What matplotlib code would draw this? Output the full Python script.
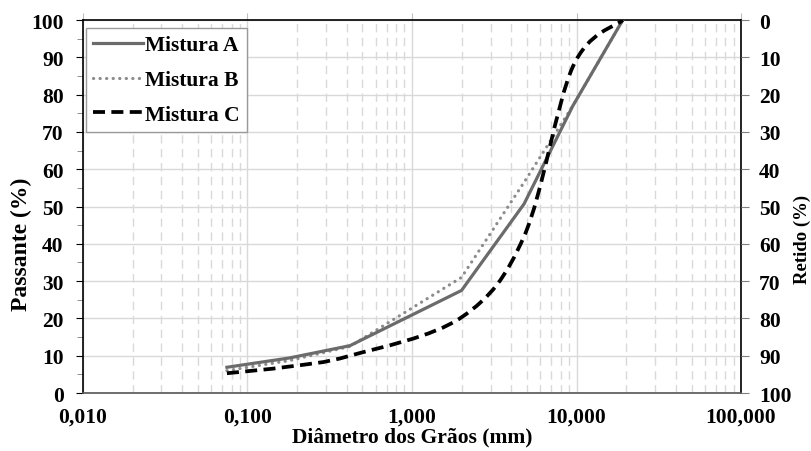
import numpy as np
import matplotlib
matplotlib.use("Agg")
import matplotlib.pyplot as plt
from matplotlib.path import Path
from matplotlib.patches import PathPatch
from matplotlib.lines import Line2D
from matplotlib.ticker import FixedLocator, MultipleLocator, LogLocator

# ---- data ----
sieves = [0.075, 0.18, 0.42, 2.0, 4.8, 9.5, 19.1]
mistura_a = [6.9, 9.4, 12.7, 27.5, 50.7, 77.0, 100.0]
mistura_b = [6.0, 8.7, 12.5, 31.0, 56.5, 77.0, 100.0]
mistura_c = [5.3, 7.1, 10.0, 20.3, 42.0, 87.5, 100.0]
series_names = ["Mistura A", "Mistura B", "Mistura C"]
xtick_vals = [0.01, 0.1, 1, 10, 100]
xtick_labels = ["0,010", "0,100", "1,000", "10,000", "100,000"]

FS = 15.5
plt.rcParams['font.family'] = ['Liberation Serif', 'DejaVu Serif']
plt.rcParams['font.weight'] = 'bold'

fig = plt.figure(figsize=(8.12, 4.52), dpi=100)
ax = fig.add_axes([0.1022, 0.1283, 0.8104, 0.8252])

ax.set_xscale('log')
ax.set_xlim(0.01, 100)
ax.set_ylim(0, 100)

# grid
ax.xaxis.set_major_locator(FixedLocator(xtick_vals))
ax.xaxis.set_minor_locator(LogLocator(base=10, subs=np.arange(2, 10), numticks=20))
ax.yaxis.set_major_locator(MultipleLocator(10))
ax.yaxis.set_minor_locator(MultipleLocator(5))
ax.grid(True, which='major', axis='both', color='#d9d9d9', lw=1.0, ls='-')
ax.grid(True, which='minor', axis='x', color='#d9d9d9', lw=1.0, ls=(0, (6, 4)))
ax.set_axisbelow(True)

# series A & B (straight)
colA = '#6b6b6b'
colB = '#8c8c8c'
ax.plot(sieves, mistura_b, color=colB, lw=2.3, ls=(0, (0.05, 2.0)),
        dash_capstyle='round', solid_capstyle='round', zorder=3)
ax.plot(sieves, mistura_a, color=colA, lw=2.3, ls='-', zorder=4)

# series C smoothed (Catmull-Rom -> Bezier in log space)
lx = np.log10(sieves)
yc = np.array(mistura_c, dtype=float)
pts = np.column_stack([lx, yc])
verts = [pts[0]]
codes = [Path.MOVETO]
n = len(pts)
for i in range(n - 1):
    p0 = pts[i - 1] if i > 0 else pts[i]
    p1 = pts[i]
    p2 = pts[i + 1]
    p3 = pts[i + 2] if i + 2 < n else pts[i + 1]
    c1 = p1 + (p2 - p0) / 6.0
    c2 = p2 - (p3 - p1) / 6.0
    verts += [c1, c2, p2]
    codes += [Path.CURVE4] * 3
verts = np.array(verts)
verts[:, 0] = 10 ** verts[:, 0]
patch = PathPatch(Path(verts, codes), fill=False, edgecolor='black', lw=2.7,
                  ls=(0, (3.2, 1.7)), zorder=5, capstyle='butt')
ax.add_patch(patch)

# ticks
ax.set_xticks(xtick_vals)
ax.set_xticklabels(xtick_labels)
ax.tick_params(axis='x', which='both', bottom=False, top=True, labelbottom=True,
               direction='out', length=5, color='#bfbfbf', labelsize=FS, pad=5)
ax.tick_params(axis='x', which='minor', top=False)
ax.tick_params(axis='y', which='major', direction='out', length=5, color='black',
               labelsize=FS, pad=9)
ax.tick_params(axis='y', which='minor', direction='out', length=4, color='#808080')
for lab in ax.get_xticklabels() + ax.get_yticklabels():
    lab.set_fontweight('bold')

for s in ['left', 'top', 'right']:
    ax.spines[s].set_color('black')
    ax.spines[s].set_linewidth(1.2)
ax.spines['bottom'].set_color('#555555')
ax.spines['bottom'].set_linewidth(1.2)

ax.set_ylabel('Passante (%)', fontsize=17, fontweight='bold', va='center')
ax.yaxis.set_label_coords(-0.094, 0.402)
ax.set_xlabel('Diâmetro dos Grãos (mm)', fontsize=FS, fontweight='bold', labelpad=0)

# right axis: retido
ax2 = ax.twinx()
ax2.set_ylim(100, 0)
ax2.yaxis.set_major_locator(MultipleLocator(10))
ax2.tick_params(axis='y', direction='out', length=6, color='#808080', labelsize=FS, pad=7)
for lab in ax2.get_yticklabels():
    lab.set_fontweight('bold')
ax2.set_ylabel('Retido (%)', fontsize=13.5, fontweight='bold', rotation=90, va='center')
ax2.yaxis.set_label_coords(1.0925, 0.415)
for s in ax2.spines.values():
    s.set_visible(False)

# legend
handles = [
    Line2D([], [], color=colA, lw=2.3, ls='-'),
    Line2D([], [], color=colB, lw=2.3, ls=(0, (0.05, 2.0)), dash_capstyle='round'),
    Line2D([], [], color='black', lw=2.7, ls=(0, (3.2, 1.7))),
]
leg = ax.legend(handles, series_names, loc='upper left', bbox_to_anchor=(0.004, 0.979),
                fancybox=False, framealpha=1, edgecolor='#9a9a9a',
                prop={'family': 'Liberation Serif', 'weight': 'bold', 'size': FS},
                handlelength=2.3, handletextpad=0.1, borderpad=0.35, labelspacing=0.68,
                borderaxespad=0)
leg.get_frame().set_linewidth(1.0)
leg.set_zorder(10)

fig.savefig('out.png', dpi=100)
